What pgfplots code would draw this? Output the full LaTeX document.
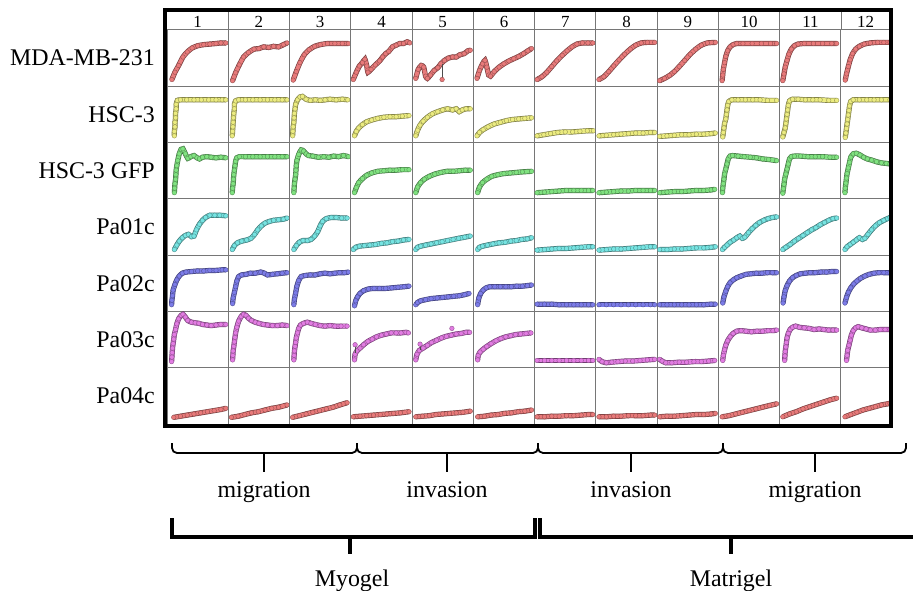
\documentclass[border=0pt]{standalone}
\usepackage{fontspec}
\setmainfont{Liberation Serif}
\newfontfamily\tnr{Liberation Serif}
\usepackage{pgfplots}
\usepgfplotslibrary{groupplots}
\pgfplotsset{compat=1.18}

\definecolor{cR}{RGB}{232,122,122}
\definecolor{cY}{RGB}{236,236,128}
\definecolor{cG}{RGB}{128,226,128}
\definecolor{cC}{RGB}{118,228,226}
\definecolor{cB}{RGB}{124,124,232}
\definecolor{cP}{RGB}{226,124,226}
\definecolor{grid}{RGB}{118,118,118}

\pgfplotsset{
  crv/.style={draw=#1, line width=3.8bp,
    preaction={draw=#1!50!black, line width=5.2bp},
    mark=*, mark size=2.3bp,
    mark options={fill=#1, draw=#1!65!black, line width=0.4bp, solid},
    smooth, tension=0.35},
  last/.style={width=49bp, xmax=0.8},
}
\newcommand{\lbl}{\tnr\fontsize{24}{28}\selectfont}
\newcommand{\hdr}{\tnr\fontsize{17}{20}\selectfont}

\begin{document}
\begin{tikzpicture}
\begin{groupplot}[
  group style={group size=12 by 7, horizontal sep=0pt, vertical sep=0pt},
  width=61.27bp, height=56.3bp, scale only axis,
  xmin=0, xmax=1, ymin=0, ymax=1,
  ticks=none,
  axis line style={draw=grid, line width=1bp},
  clip marker paths=true,
]
% ---- row 1: MDA-MB-231
\nextgroupplot
\addplot[crv=cR] coordinates {(0.08,0.12)(0.13,0.25)(0.19,0.37)(0.26,0.52)(0.33,0.61)(0.41,0.68)(0.50,0.72)(0.60,0.74)(0.70,0.75)(0.80,0.76)(0.88,0.77)(0.96,0.77)};
\nextgroupplot
\addplot[crv=cR] coordinates {(0.07,0.10)(0.12,0.24)(0.18,0.38)(0.25,0.52)(0.33,0.60)(0.42,0.66)(0.50,0.67)(0.58,0.70)(0.66,0.69)(0.74,0.71)(0.82,0.70)(0.90,0.74)(0.96,0.77)};
\nextgroupplot
\addplot[crv=cR] coordinates {(0.06,0.11)(0.11,0.26)(0.17,0.42)(0.24,0.56)(0.32,0.65)(0.41,0.71)(0.50,0.74)(0.62,0.76)(0.74,0.76)(0.86,0.76)(0.96,0.76)};
\nextgroupplot
\addplot[crv=cR] coordinates {(0.04,0.12)(0.09,0.25)(0.14,0.36)(0.19,0.42)(0.23,0.48)(0.26,0.36)(0.28,0.25)(0.33,0.30)(0.40,0.38)(0.47,0.45)(0.52,0.52)(0.57,0.58)(0.62,0.62)(0.68,0.70)(0.74,0.73)(0.80,0.76)(0.86,0.76)(0.92,0.79)(0.96,0.77)};
\nextgroupplot
\addplot[crv=cR] coordinates {(0.06,0.14)(0.10,0.30)(0.15,0.37)(0.19,0.34)(0.22,0.18)(0.25,0.14)(0.30,0.20)(0.36,0.28)(0.42,0.33)(0.47,0.40)(0.53,0.46)(0.59,0.50)(0.66,0.52)(0.72,0.52)(0.78,0.56)(0.85,0.58)(0.91,0.63)(0.95,0.64)};
\addplot[black!70, line width=0.8bp, mark=*, mark size=2.3bp, mark indices={2}, mark options={fill=cR, draw=cR!65!black, line width=0.4bp}] coordinates {(0.49,0.40)(0.49,0.12)};
\nextgroupplot
\addplot[crv=cR] coordinates {(0.06,0.14)(0.10,0.28)(0.15,0.40)(0.19,0.46)(0.22,0.34)(0.25,0.20)(0.28,0.18)(0.34,0.26)(0.42,0.34)(0.50,0.40)(0.58,0.45)(0.66,0.49)(0.74,0.53)(0.82,0.58)(0.89,0.63)(0.95,0.67)};
\nextgroupplot
\addplot[crv=cR] coordinates {(0.04,0.12)(0.12,0.17)(0.20,0.25)(0.28,0.35)(0.36,0.45)(0.45,0.55)(0.53,0.63)(0.61,0.70)(0.69,0.75)(0.78,0.77)(0.87,0.77)(0.95,0.77)};
\nextgroupplot
\addplot[crv=cR] coordinates {(0.05,0.12)(0.13,0.17)(0.21,0.26)(0.29,0.36)(0.38,0.47)(0.47,0.57)(0.56,0.66)(0.65,0.73)(0.74,0.77)(0.84,0.78)(0.96,0.78)};
\nextgroupplot
\addplot[crv=cR] coordinates {(0.04,0.10)(0.12,0.14)(0.20,0.19)(0.28,0.26)(0.36,0.35)(0.45,0.46)(0.54,0.57)(0.63,0.66)(0.72,0.73)(0.82,0.77)(0.95,0.78)};
\nextgroupplot
\addplot[crv=cR] coordinates {(0.06,0.10)(0.07,0.20)(0.08,0.30)(0.10,0.42)(0.12,0.53)(0.15,0.63)(0.19,0.70)(0.24,0.74)(0.30,0.76)(0.40,0.76)(0.55,0.76)(0.70,0.76)(0.85,0.76)(0.95,0.76)};
\nextgroupplot
\addplot[crv=cR] coordinates {(0.05,0.10)(0.07,0.22)(0.09,0.34)(0.12,0.46)(0.15,0.57)(0.19,0.66)(0.24,0.72)(0.30,0.75)(0.40,0.76)(0.55,0.76)(0.70,0.76)(0.85,0.76)(0.93,0.76)};
\nextgroupplot[last]
\addplot[crv=cR] coordinates {(0.07,0.11)(0.09,0.22)(0.12,0.35)(0.15,0.47)(0.19,0.58)(0.24,0.66)(0.30,0.71)(0.38,0.75)(0.48,0.77)(0.60,0.78)(0.70,0.78)(0.80,0.78)};
% ---- row 2: HSC-3
\nextgroupplot
\addplot[crv=cY] coordinates {(0.12,0.12)(0.12,0.20)(0.13,0.28)(0.13,0.36)(0.14,0.44)(0.14,0.52)(0.15,0.60)(0.15,0.68)(0.17,0.75)(0.22,0.76)(0.32,0.76)(0.44,0.76)(0.56,0.76)(0.68,0.76)(0.80,0.76)(0.90,0.76)(0.96,0.76)};
\nextgroupplot
\addplot[crv=cY] coordinates {(0.065,0.12)(0.07,0.20)(0.075,0.28)(0.08,0.36)(0.085,0.44)(0.09,0.52)(0.10,0.60)(0.10,0.68)(0.12,0.74)(0.17,0.76)(0.28,0.76)(0.40,0.76)(0.52,0.76)(0.64,0.76)(0.76,0.76)(0.88,0.76)(0.96,0.76)};
\nextgroupplot
\addplot[crv=cY] coordinates {(0.05,0.12)(0.055,0.20)(0.06,0.28)(0.07,0.36)(0.075,0.44)(0.08,0.52)(0.09,0.60)(0.10,0.68)(0.13,0.76)(0.17,0.81)(0.21,0.82)(0.27,0.77)(0.34,0.75)(0.42,0.76)(0.50,0.75)(0.58,0.76)(0.66,0.77)(0.76,0.76)(0.86,0.77)(0.95,0.76)};
\nextgroupplot
\addplot[crv=cY] coordinates {(0.06,0.12)(0.09,0.20)(0.13,0.26)(0.19,0.32)(0.26,0.37)(0.34,0.40)(0.44,0.43)(0.54,0.45)(0.64,0.46)(0.74,0.46)(0.84,0.47)(0.95,0.48)};
\nextgroupplot
\addplot[crv=cY] coordinates {(0.06,0.12)(0.09,0.22)(0.13,0.31)(0.18,0.38)(0.25,0.45)(0.33,0.51)(0.42,0.55)(0.50,0.58)(0.58,0.60)(0.66,0.58)(0.72,0.60)(0.77,0.55)(0.82,0.58)(0.88,0.60)(0.95,0.60)};
\nextgroupplot
\addplot[crv=cY] coordinates {(0.06,0.12)(0.10,0.18)(0.16,0.23)(0.24,0.28)(0.34,0.33)(0.44,0.36)(0.54,0.39)(0.64,0.41)(0.74,0.42)(0.84,0.43)(0.95,0.44)};
\nextgroupplot
\addplot[crv=cY] coordinates {(0.04,0.12)(0.15,0.14)(0.26,0.16)(0.38,0.18)(0.50,0.19)(0.62,0.19)(0.74,0.20)(0.86,0.21)(0.96,0.21)};
\nextgroupplot
\addplot[crv=cY] coordinates {(0.05,0.12)(0.17,0.13)(0.29,0.14)(0.41,0.15)(0.53,0.16)(0.65,0.17)(0.77,0.17)(0.89,0.18)(0.96,0.18)};
\nextgroupplot
\addplot[crv=cY] coordinates {(0.04,0.11)(0.16,0.12)(0.28,0.13)(0.40,0.14)(0.52,0.14)(0.64,0.15)(0.76,0.15)(0.88,0.16)(0.95,0.17)};
\nextgroupplot
\addplot[crv=cY] coordinates {(0.07,0.10)(0.08,0.18)(0.09,0.26)(0.10,0.34)(0.12,0.42)(0.13,0.50)(0.14,0.58)(0.15,0.66)(0.17,0.73)(0.22,0.76)(0.32,0.76)(0.44,0.76)(0.56,0.76)(0.68,0.76)(0.80,0.75)(0.95,0.75)};
\nextgroupplot
\addplot[crv=cY] coordinates {(0.05,0.10)(0.07,0.18)(0.09,0.26)(0.10,0.34)(0.11,0.42)(0.12,0.50)(0.13,0.58)(0.14,0.66)(0.16,0.74)(0.21,0.77)(0.30,0.77)(0.42,0.76)(0.54,0.76)(0.66,0.76)(0.80,0.75)(0.93,0.75)};
\nextgroupplot[last]
\addplot[crv=cY] coordinates {(0.07,0.09)(0.08,0.17)(0.09,0.25)(0.10,0.33)(0.11,0.41)(0.12,0.49)(0.13,0.57)(0.14,0.65)(0.16,0.73)(0.20,0.76)(0.30,0.76)(0.42,0.76)(0.54,0.76)(0.66,0.76)(0.80,0.76)};
% ---- row 3: HSC-3 GFP
\nextgroupplot
\addplot[crv=cG] coordinates {(0.12,0.11)(0.125,0.19)(0.13,0.27)(0.14,0.35)(0.145,0.43)(0.15,0.51)(0.16,0.59)(0.175,0.68)(0.20,0.80)(0.23,0.88)(0.26,0.89)(0.30,0.80)(0.34,0.72)(0.39,0.75)(0.44,0.77)(0.49,0.73)(0.53,0.71)(0.58,0.74)(0.65,0.75)(0.72,0.74)(0.80,0.73)(0.88,0.74)(0.96,0.73)};
\nextgroupplot
\addplot[crv=cG] coordinates {(0.065,0.11)(0.07,0.19)(0.08,0.27)(0.085,0.35)(0.09,0.43)(0.10,0.51)(0.11,0.59)(0.12,0.67)(0.14,0.73)(0.18,0.75)(0.28,0.75)(0.40,0.75)(0.52,0.75)(0.64,0.75)(0.76,0.75)(0.88,0.75)(0.96,0.75)};
\nextgroupplot
\addplot[crv=cG] coordinates {(0.07,0.11)(0.075,0.19)(0.08,0.27)(0.09,0.35)(0.10,0.43)(0.105,0.51)(0.11,0.59)(0.12,0.68)(0.15,0.79)(0.19,0.87)(0.23,0.85)(0.27,0.80)(0.31,0.77)(0.38,0.76)(0.47,0.74)(0.56,0.75)(0.64,0.74)(0.72,0.76)(0.80,0.75)(0.88,0.77)(0.96,0.75)};
\nextgroupplot
\addplot[crv=cG] coordinates {(0.06,0.11)(0.09,0.20)(0.13,0.29)(0.19,0.36)(0.26,0.42)(0.34,0.46)(0.44,0.49)(0.54,0.50)(0.64,0.51)(0.74,0.51)(0.84,0.52)(0.95,0.52)};
\nextgroupplot
\addplot[crv=cG] coordinates {(0.06,0.11)(0.09,0.21)(0.14,0.29)(0.20,0.35)(0.28,0.40)(0.37,0.44)(0.47,0.47)(0.57,0.49)(0.67,0.49)(0.77,0.50)(0.87,0.51)(0.95,0.51)};
\nextgroupplot
\addplot[crv=cG] coordinates {(0.07,0.11)(0.10,0.21)(0.15,0.29)(0.22,0.35)(0.30,0.40)(0.40,0.43)(0.50,0.45)(0.60,0.46)(0.70,0.47)(0.80,0.48)(0.95,0.49)};
\nextgroupplot
\addplot[crv=cG] coordinates {(0.04,0.11)(0.16,0.12)(0.28,0.13)(0.40,0.14)(0.52,0.15)(0.64,0.15)(0.76,0.15)(0.88,0.15)(0.95,0.15)};
\nextgroupplot
\addplot[crv=cG] coordinates {(0.05,0.11)(0.17,0.12)(0.29,0.13)(0.41,0.14)(0.53,0.14)(0.65,0.15)(0.77,0.15)(0.89,0.15)(0.96,0.15)};
\nextgroupplot
\addplot[crv=cG] coordinates {(0.04,0.11)(0.16,0.12)(0.28,0.13)(0.40,0.13)(0.52,0.14)(0.64,0.15)(0.76,0.15)(0.88,0.16)(0.94,0.17)};
\nextgroupplot
\addplot[crv=cG] coordinates {(0.065,0.11)(0.07,0.19)(0.08,0.27)(0.09,0.35)(0.10,0.44)(0.12,0.53)(0.14,0.62)(0.16,0.71)(0.19,0.76)(0.23,0.77)(0.32,0.76)(0.42,0.75)(0.52,0.74)(0.62,0.73)(0.72,0.71)(0.82,0.70)(0.95,0.68)};
\nextgroupplot
\addplot[crv=cG] coordinates {(0.05,0.10)(0.06,0.18)(0.07,0.26)(0.08,0.35)(0.10,0.44)(0.12,0.53)(0.14,0.62)(0.16,0.71)(0.19,0.75)(0.24,0.76)(0.34,0.76)(0.46,0.75)(0.58,0.75)(0.70,0.75)(0.82,0.74)(0.93,0.74)};
\nextgroupplot[last]
\addplot[crv=cG] coordinates {(0.065,0.11)(0.07,0.19)(0.08,0.28)(0.09,0.37)(0.10,0.45)(0.12,0.55)(0.14,0.65)(0.16,0.74)(0.20,0.80)(0.25,0.81)(0.31,0.78)(0.37,0.74)(0.43,0.71)(0.50,0.69)(0.58,0.66)(0.66,0.64)(0.74,0.63)(0.80,0.62)};
% ---- row 4: Pa01c
\nextgroupplot
\addplot[crv=cC] coordinates {(0.12,0.10)(0.16,0.18)(0.20,0.25)(0.25,0.31)(0.30,0.35)(0.35,0.37)(0.40,0.33)(0.44,0.34)(0.48,0.45)(0.53,0.55)(0.58,0.62)(0.63,0.67)(0.70,0.71)(0.78,0.71)(0.86,0.71)(0.96,0.70)};
\nextgroupplot
\addplot[crv=cC] coordinates {(0.065,0.10)(0.10,0.17)(0.15,0.22)(0.22,0.25)(0.30,0.27)(0.37,0.30)(0.43,0.37)(0.48,0.45)(0.54,0.52)(0.60,0.57)(0.67,0.60)(0.74,0.62)(0.82,0.63)(0.90,0.64)(0.96,0.66)};
\nextgroupplot
\addplot[crv=cC] coordinates {(0.07,0.10)(0.11,0.17)(0.16,0.23)(0.22,0.26)(0.29,0.26)(0.35,0.28)(0.41,0.34)(0.46,0.42)(0.50,0.52)(0.54,0.60)(0.60,0.65)(0.68,0.67)(0.76,0.67)(0.85,0.66)(0.94,0.66)};
\nextgroupplot
\addplot[crv=cC] coordinates {(0.04,0.10)(0.08,0.14)(0.14,0.16)(0.22,0.17)(0.31,0.18)(0.40,0.19)(0.50,0.21)(0.59,0.22)(0.68,0.24)(0.77,0.25)(0.86,0.27)(0.95,0.28)};
\nextgroupplot
\addplot[crv=cC] coordinates {(0.06,0.10)(0.09,0.14)(0.14,0.16)(0.22,0.18)(0.31,0.20)(0.40,0.22)(0.49,0.24)(0.58,0.26)(0.67,0.28)(0.76,0.30)(0.86,0.32)(0.95,0.34)};
\nextgroupplot
\addplot[crv=cC] coordinates {(0.07,0.10)(0.10,0.14)(0.15,0.16)(0.23,0.18)(0.32,0.20)(0.42,0.22)(0.52,0.23)(0.61,0.25)(0.70,0.26)(0.79,0.28)(0.88,0.29)(0.95,0.31)};
\nextgroupplot
\addplot[crv=cC] coordinates {(0.04,0.09)(0.16,0.10)(0.28,0.11)(0.40,0.12)(0.52,0.12)(0.64,0.13)(0.76,0.14)(0.88,0.15)(0.95,0.15)};
\nextgroupplot
\addplot[crv=cC] coordinates {(0.05,0.09)(0.17,0.10)(0.29,0.11)(0.41,0.11)(0.53,0.12)(0.65,0.13)(0.77,0.14)(0.89,0.15)(0.96,0.15)};
\nextgroupplot
\addplot[crv=cC] coordinates {(0.04,0.10)(0.16,0.10)(0.28,0.11)(0.40,0.11)(0.52,0.12)(0.64,0.13)(0.76,0.13)(0.88,0.14)(0.95,0.15)};
\nextgroupplot
\addplot[crv=cC] coordinates {(0.065,0.10)(0.10,0.14)(0.14,0.18)(0.19,0.23)(0.25,0.27)(0.30,0.31)(0.35,0.34)(0.39,0.30)(0.43,0.32)(0.49,0.40)(0.55,0.47)(0.61,0.53)(0.67,0.58)(0.74,0.62)(0.81,0.65)(0.88,0.67)(0.95,0.68)};
\nextgroupplot
\addplot[crv=cC] coordinates {(0.05,0.10)(0.10,0.14)(0.17,0.19)(0.24,0.25)(0.31,0.30)(0.38,0.35)(0.45,0.40)(0.52,0.45)(0.59,0.49)(0.66,0.54)(0.73,0.58)(0.80,0.62)(0.87,0.65)(0.93,0.66)};
\nextgroupplot[last]
\addplot[crv=cC] coordinates {(0.065,0.10)(0.10,0.15)(0.15,0.19)(0.20,0.23)(0.25,0.27)(0.30,0.31)(0.35,0.28)(0.39,0.30)(0.44,0.37)(0.50,0.45)(0.56,0.52)(0.63,0.58)(0.70,0.62)(0.76,0.65)(0.80,0.67)};
% ---- row 5: Pa02c
\nextgroupplot
\addplot[crv=cB] coordinates {(0.075,0.12)(0.08,0.20)(0.09,0.28)(0.10,0.38)(0.13,0.48)(0.16,0.56)(0.20,0.63)(0.25,0.68)(0.31,0.70)(0.40,0.71)(0.50,0.72)(0.60,0.72)(0.70,0.73)(0.80,0.73)(0.90,0.74)(0.96,0.74)};
\nextgroupplot
\addplot[crv=cB] coordinates {(0.07,0.14)(0.08,0.24)(0.10,0.34)(0.12,0.44)(0.14,0.54)(0.17,0.62)(0.22,0.65)(0.29,0.66)(0.36,0.68)(0.44,0.68)(0.53,0.70)(0.59,0.68)(0.64,0.65)(0.72,0.66)(0.80,0.67)(0.88,0.68)(0.96,0.69)};
\nextgroupplot
\addplot[crv=cB] coordinates {(0.07,0.12)(0.08,0.22)(0.10,0.33)(0.12,0.45)(0.15,0.55)(0.19,0.62)(0.26,0.64)(0.34,0.65)(0.42,0.65)(0.50,0.67)(0.58,0.68)(0.66,0.67)(0.74,0.68)(0.82,0.69)(0.90,0.69)(0.96,0.70)};
\nextgroupplot
\addplot[crv=cB] coordinates {(0.06,0.10)(0.08,0.19)(0.11,0.26)(0.15,0.32)(0.21,0.37)(0.29,0.40)(0.38,0.41)(0.47,0.41)(0.57,0.41)(0.67,0.42)(0.77,0.43)(0.87,0.44)(0.95,0.45)};
\nextgroupplot
\addplot[crv=cB] coordinates {(0.06,0.12)(0.09,0.16)(0.14,0.19)(0.22,0.21)(0.31,0.23)(0.41,0.24)(0.50,0.25)(0.59,0.26)(0.68,0.27)(0.77,0.28)(0.86,0.30)(0.93,0.32)};
\nextgroupplot
\addplot[crv=cB] coordinates {(0.07,0.12)(0.09,0.24)(0.12,0.32)(0.16,0.38)(0.21,0.42)(0.27,0.44)(0.35,0.44)(0.44,0.44)(0.53,0.44)(0.62,0.44)(0.71,0.45)(0.80,0.45)(0.88,0.46)(0.95,0.47)};
\nextgroupplot
\addplot[crv=cB] coordinates {(0.04,0.13)(0.16,0.13)(0.28,0.13)(0.40,0.12)(0.52,0.12)(0.64,0.12)(0.76,0.12)(0.88,0.12)(0.95,0.12)};
\nextgroupplot
\addplot[crv=cB] coordinates {(0.05,0.12)(0.17,0.12)(0.29,0.12)(0.41,0.12)(0.53,0.12)(0.65,0.12)(0.77,0.12)(0.89,0.12)(0.96,0.12)};
\nextgroupplot
\addplot[crv=cB] coordinates {(0.04,0.12)(0.16,0.12)(0.28,0.12)(0.40,0.12)(0.52,0.12)(0.64,0.12)(0.76,0.12)(0.88,0.13)(0.95,0.13)};
\nextgroupplot
\addplot[crv=cB] coordinates {(0.07,0.15)(0.09,0.26)(0.12,0.36)(0.15,0.44)(0.19,0.51)(0.24,0.56)(0.30,0.60)(0.37,0.63)(0.45,0.66)(0.53,0.67)(0.62,0.68)(0.71,0.68)(0.80,0.69)(0.88,0.69)(0.95,0.69)};
\nextgroupplot
\addplot[crv=cB] coordinates {(0.055,0.15)(0.07,0.26)(0.09,0.37)(0.12,0.46)(0.16,0.54)(0.21,0.60)(0.27,0.64)(0.34,0.67)(0.42,0.68)(0.50,0.69)(0.58,0.69)(0.67,0.70)(0.76,0.70)(0.85,0.71)(0.93,0.71)};
\nextgroupplot[last]
\addplot[crv=cB] coordinates {(0.065,0.15)(0.09,0.25)(0.12,0.34)(0.16,0.42)(0.21,0.49)(0.26,0.54)(0.32,0.59)(0.39,0.63)(0.46,0.66)(0.54,0.68)(0.62,0.69)(0.70,0.69)(0.80,0.69)};
% ---- row 6: Pa03c
\nextgroupplot
\addplot[crv=cP] coordinates {(0.075,0.11)(0.08,0.19)(0.085,0.27)(0.09,0.35)(0.10,0.43)(0.11,0.51)(0.12,0.59)(0.14,0.68)(0.16,0.78)(0.19,0.87)(0.23,0.93)(0.26,0.95)(0.30,0.90)(0.34,0.84)(0.40,0.81)(0.46,0.80)(0.52,0.79)(0.58,0.77)(0.65,0.76)(0.72,0.75)(0.80,0.76)(0.88,0.77)(0.96,0.77)};
\nextgroupplot
\addplot[crv=cP] coordinates {(0.07,0.14)(0.075,0.22)(0.08,0.30)(0.09,0.38)(0.10,0.46)(0.11,0.54)(0.12,0.62)(0.14,0.72)(0.17,0.83)(0.21,0.91)(0.25,0.95)(0.29,0.93)(0.33,0.88)(0.38,0.84)(0.44,0.81)(0.50,0.79)(0.57,0.77)(0.64,0.76)(0.72,0.75)(0.80,0.75)(0.88,0.76)(0.96,0.75)};
\nextgroupplot
\addplot[crv=cP] coordinates {(0.07,0.14)(0.075,0.22)(0.08,0.30)(0.09,0.38)(0.10,0.45)(0.11,0.53)(0.13,0.62)(0.15,0.70)(0.18,0.76)(0.23,0.79)(0.29,0.81)(0.35,0.79)(0.42,0.77)(0.50,0.75)(0.58,0.74)(0.66,0.75)(0.74,0.74)(0.84,0.74)(0.94,0.74)};
\nextgroupplot
\addplot[crv=cP] coordinates {(0.06,0.14)(0.07,0.24)(0.10,0.30)(0.15,0.35)(0.21,0.41)(0.28,0.47)(0.35,0.51)(0.42,0.55)(0.50,0.58)(0.58,0.60)(0.66,0.62)(0.74,0.62)(0.82,0.62)(0.90,0.63)(0.94,0.62)};
\addplot[black!70, line width=0.8bp, mark=*, mark size=2.3bp, mark indices={1}, mark options={fill=cP, draw=cP!65!black, line width=0.4bp}] coordinates {(0.07,0.41)(0.07,0.26)};
\nextgroupplot
\addplot[crv=cP] coordinates {(0.06,0.14)(0.08,0.24)(0.12,0.31)(0.18,0.35)(0.25,0.40)(0.32,0.45)(0.40,0.49)(0.48,0.53)(0.56,0.56)(0.64,0.58)(0.72,0.60)(0.80,0.61)(0.88,0.63)(0.94,0.63)};
\addplot[black!70, line width=0.8bp, mark=*, mark size=2.3bp, mark indices={1}, mark options={fill=cP, draw=cP!65!black, line width=0.4bp}] coordinates {(0.13,0.42)(0.13,0.31)};
\addplot[only marks, mark=*, mark size=2.3bp, mark options={fill=cP, draw=cP!65!black, line width=0.4bp}] coordinates {(0.65,0.70)};
\nextgroupplot
\addplot[crv=cP] coordinates {(0.07,0.14)(0.08,0.22)(0.11,0.28)(0.16,0.33)(0.22,0.38)(0.29,0.43)(0.37,0.48)(0.45,0.52)(0.53,0.55)(0.61,0.57)(0.69,0.59)(0.77,0.60)(0.86,0.61)(0.94,0.62)};
\nextgroupplot
\addplot[crv=cP] coordinates {(0.04,0.13)(0.16,0.13)(0.28,0.13)(0.40,0.13)(0.52,0.13)(0.64,0.13)(0.76,0.13)(0.88,0.13)(0.95,0.13)};
\nextgroupplot
\addplot[crv=cP] coordinates {(0.05,0.15)(0.10,0.11)(0.17,0.09)(0.26,0.10)(0.36,0.11)(0.48,0.12)(0.60,0.12)(0.72,0.13)(0.84,0.14)(0.96,0.15)};
\nextgroupplot
\addplot[crv=cP] coordinates {(0.04,0.15)(0.08,0.12)(0.14,0.09)(0.24,0.09)(0.36,0.10)(0.48,0.10)(0.60,0.11)(0.72,0.11)(0.84,0.12)(0.94,0.13)};
\nextgroupplot
\addplot[crv=cP] coordinates {(0.07,0.13)(0.08,0.22)(0.10,0.32)(0.12,0.40)(0.15,0.48)(0.19,0.55)(0.24,0.61)(0.30,0.65)(0.37,0.66)(0.45,0.65)(0.54,0.64)(0.63,0.65)(0.72,0.65)(0.81,0.66)(0.89,0.66)(0.95,0.67)};
\nextgroupplot
\addplot[crv=cP] coordinates {(0.08,0.13)(0.085,0.21)(0.09,0.29)(0.10,0.37)(0.11,0.45)(0.12,0.53)(0.14,0.61)(0.17,0.68)(0.21,0.72)(0.26,0.74)(0.32,0.72)(0.40,0.71)(0.48,0.70)(0.56,0.68)(0.64,0.69)(0.72,0.68)(0.80,0.67)(0.87,0.67)(0.93,0.67)};
\nextgroupplot[last]
\addplot[crv=cP] coordinates {(0.09,0.13)(0.10,0.22)(0.11,0.31)(0.13,0.40)(0.15,0.49)(0.17,0.58)(0.20,0.66)(0.24,0.71)(0.28,0.73)(0.34,0.71)(0.41,0.69)(0.48,0.67)(0.56,0.67)(0.64,0.68)(0.72,0.68)(0.80,0.68)};
% ---- row 7: Pa04c
\nextgroupplot
\addplot[crv=cR] coordinates {(0.11,0.12)(0.22,0.14)(0.33,0.16)(0.44,0.18)(0.55,0.20)(0.66,0.22)(0.77,0.24)(0.88,0.26)(0.96,0.28)};
\nextgroupplot
\addplot[crv=cR] coordinates {(0.05,0.12)(0.16,0.14)(0.27,0.17)(0.38,0.20)(0.49,0.22)(0.60,0.25)(0.71,0.28)(0.82,0.30)(0.96,0.34)};
\nextgroupplot
\addplot[crv=cR] coordinates {(0.05,0.12)(0.16,0.15)(0.27,0.18)(0.38,0.21)(0.49,0.24)(0.60,0.27)(0.71,0.30)(0.82,0.34)(0.94,0.38)};
\nextgroupplot
\addplot[crv=cR] coordinates {(0.04,0.13)(0.15,0.14)(0.26,0.15)(0.37,0.16)(0.48,0.17)(0.59,0.18)(0.70,0.19)(0.81,0.20)(0.95,0.22)};
\nextgroupplot
\addplot[crv=cR] coordinates {(0.06,0.13)(0.17,0.14)(0.28,0.15)(0.39,0.17)(0.50,0.18)(0.61,0.19)(0.72,0.20)(0.83,0.21)(0.95,0.23)};
\nextgroupplot
\addplot[crv=cR] coordinates {(0.07,0.13)(0.18,0.14)(0.29,0.16)(0.40,0.17)(0.51,0.19)(0.62,0.20)(0.73,0.22)(0.84,0.23)(0.95,0.25)};
\nextgroupplot
\addplot[crv=cR] coordinates {(0.04,0.13)(0.16,0.13)(0.28,0.14)(0.40,0.14)(0.52,0.15)(0.64,0.15)(0.76,0.16)(0.88,0.17)(0.95,0.17)};
\nextgroupplot
\addplot[crv=cR] coordinates {(0.05,0.13)(0.17,0.13)(0.29,0.14)(0.41,0.14)(0.53,0.15)(0.65,0.15)(0.77,0.15)(0.89,0.16)(0.96,0.16)};
\nextgroupplot
\addplot[crv=cR] coordinates {(0.04,0.13)(0.16,0.14)(0.28,0.14)(0.40,0.15)(0.52,0.16)(0.64,0.17)(0.76,0.17)(0.88,0.18)(0.95,0.19)};
\nextgroupplot
\addplot[crv=cR] coordinates {(0.06,0.13)(0.17,0.15)(0.28,0.18)(0.39,0.21)(0.50,0.24)(0.61,0.27)(0.72,0.30)(0.83,0.33)(0.95,0.36)};
\nextgroupplot
\addplot[crv=cR] coordinates {(0.05,0.13)(0.16,0.18)(0.27,0.22)(0.38,0.27)(0.49,0.31)(0.60,0.35)(0.71,0.39)(0.82,0.43)(0.93,0.46)};
\nextgroupplot[last]
\addplot[crv=cR] coordinates {(0.065,0.13)(0.16,0.17)(0.26,0.21)(0.36,0.25)(0.46,0.28)(0.56,0.31)(0.66,0.34)(0.76,0.36)(0.80,0.37)};
\end{groupplot}

\path (group c1r1.north west) ++(-167bp,30bp) coordinate (O);
\begin{scope}[shift={(O)}, x=1bp, y=-1bp]
  % header separators and numbers
  \foreach \xx in {228.3,289.5,350.8,412.1,473.4,534.6,595.9,657.2,718.4,779.7,841.0}
    \draw[grid, line width=1bp] (\xx,10) -- (\xx,30);
  \foreach \i/\xx in {1/197.6,2/258.9,3/320.2,4/381.5,5/442.7,6/504.0,7/565.3,8/626.6,9/687.9,10/749.2,11/810.4,12/865.5}
    \node[font=\hdr, anchor=base, inner sep=0pt] at (\xx,28) {\i};
  % outer frame
  \draw[line width=4bp] (165,10) rectangle (891,426);
  % row labels
  \foreach \yy/\t in {58.2/MDA-MB-231,114.5/HSC-3,170.8/HSC-3 GFP,227.0/Pa01c,283.4/Pa02c,339.7/Pa03c,396.0/Pa04c}
    \node[anchor=east, font=\lbl, inner sep=0pt] at (155,\yy) {\t};
  % first-level brackets
  \foreach \a/\b/\m in {172/357/264,357/538/447,538/723/631,723/906/815} {
    \draw[line width=1.8bp, rounded corners=5bp] (\a,443) -- (\a,453) -- (\b,453) -- (\b,443);
    \draw[line width=1.8bp] (\m,453) -- (\m,472);
  }
  \node[font=\lbl, anchor=base] at (264,497) {migration};
  \node[font=\lbl, anchor=base] at (447,497) {invasion};
  \node[font=\lbl, anchor=base] at (631,497) {invasion};
  \node[font=\lbl, anchor=base] at (815,497) {migration};
  % second-level brackets
  \draw[line width=3.5bp] (172,518) -- (172,537) -- (535,537) -- (535,518);
  \draw[line width=3.5bp] (350,537) -- (350,554);
  \draw[line width=3.5bp] (540,518) -- (540,537) -- (920,537);
  \draw[line width=3.5bp] (731,537) -- (731,554);
  \node[font=\lbl, anchor=base] at (352,586) {Myogel};
  \node[font=\lbl, anchor=base] at (731,586) {Matrigel};
  \pgfresetboundingbox
  \path[use as bounding box] (0,0) rectangle (913,591);
\end{scope}
\end{tikzpicture}
\end{document}
